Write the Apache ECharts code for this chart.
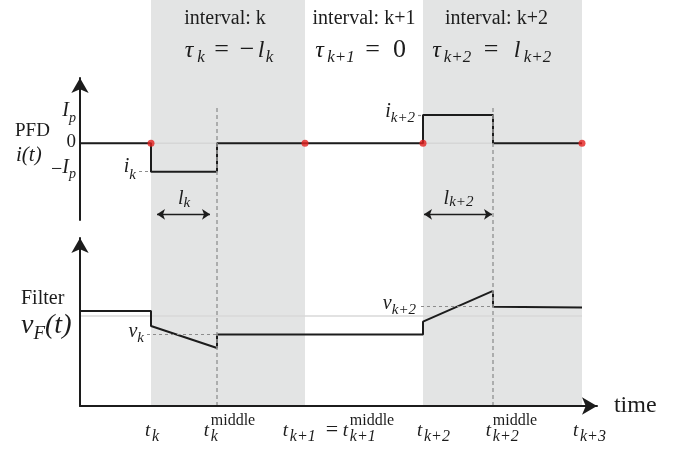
<!DOCTYPE html>
<html>
<head>
<meta charset="utf-8">
<script src="https://cdn.jsdelivr.net/npm/echarts@6/dist/echarts.min.js"></script>
<style>
  html, body { margin: 0; padding: 0; background: #fff; }
  #chart-container { width: 679px; height: 451px; }
</style>
</head>
<body>
<div id="chart-container"></div>
<script>
// time instants (arbitrary time units)
var tK = 7.1, tKMid = 13.7, tK1 = 22.5, tK2 = 34.3, tK2Mid = 41.3, tK3 = 50.2;
var timeMax = 51.7;
var tickTimes = [tK, tKMid, tK1, tK2, tK2Mid, tK3];

// PFD current, in units of Ip
var pfdTimes = [0, tK, tK, tKMid, tKMid, tK2, tK2, tK2Mid, tK2Mid, tK3];
var pfdCurrent = [0, 0, -1, -1, 0, 0, 1, 1, 0, 0];
var pfdLevels = [-1, 0, 1];
var sampleTimes = [tK, tK1, tK2, tK3];

// loop filter voltage
var filterTimes = [0, tK, tK, tKMid, tKMid, tK2, tK2, tK2Mid, tK2Mid, tK3];
var filterVolt = [5.65, 5.65, 4.76, 3.45, 4.25, 4.25, 5.02, 6.85, 5.91, 5.87];
var filterRef = 5.36;
var vK = 4.25, vK2 = 5.91;

// pulse width markers l_k, l_{k+2}
var lkSpan = [7.7, 13.0], lk2Span = [34.4, 41.2], lY = -2.5;

var SERIF = '"Liberation Serif", "DejaVu Serif", serif';
var INK = '#1c1c1c';
var SHADE = '#e3e4e4';

// --- rich text helpers (sub/superscripts) ---
var seq = 0;
function st(size, italic, extra) {
  var s = { fontFamily: SERIF, fontSize: size, fontStyle: italic ? 'italic' : 'normal', color: INK };
  for (var k in extra) s[k] = extra[k];
  return s;
}
function tok(rich, text, style) {
  var key = 'r' + (seq++);
  rich[key] = style;
  return '{' + key + '|' + text + '}';
}
function box(w, h, align) {
  var s = { width: w, height: h, lineHeight: h };
  if (align) s.align = align;
  return s;
}
// glyph centre c px below the top of its line
function topT(rich, text, size, italic, c, w, align) {
  var e = { verticalAlign: 'top', height: 2 * c, lineHeight: 2 * c, align: align };
  if (w) e.width = w;
  return tok(rich, text, st(size, italic, e));
}
// block of height 24 centred on anchor, glyph centre at dy from anchor
function midH(rich) { return tok(rich, '', box(1, 24)); }
function midT(rich, text, size, italic, dy) {
  var e = dy <= 0
    ? { verticalAlign: 'top', height: 2 * (12 + dy), lineHeight: 2 * (12 + dy) }
    : { verticalAlign: 'bottom', height: 2 * (12 - dy), lineHeight: 2 * (12 - dy) };
  return tok(rich, text, st(size, italic, e));
}
// glyph centre `up` px above the block bottom
function botT(rich, text, size, italic, up) {
  return tok(rich, text, st(size, italic, { verticalAlign: 'bottom', height: 2 * up, lineHeight: 2 * up }));
}

// y labels of PFD panel
var yRich = {};
var lblIp = midH(yRich) + midT(yRich, 'I', 20, true, -4) + midT(yRich, 'p', 14, true, 3);
var lbl0 = midH(yRich) + midT(yRich, '0', 19, false, -1.5);
var lblMinusIp = midH(yRich) + midT(yRich, '\u2212', 20, false, -2) + midT(yRich, 'I', 20, true, -3.6) + midT(yRich, 'p', 14, true, 2.6);

// level notes
var noteRich = {};
var ikLbl = midH(noteRich) + midT(noteRich, 'i', 20, true, -5) + midT(noteRich, 'k', 15, true, 3);
var ik2Lbl = midH(noteRich) + midT(noteRich, 'i', 20, true, -3) + midT(noteRich, 'k+2', 15, true, 3);
var vkLbl = midH(noteRich) + midT(noteRich, 'v', 20, true, -3) + midT(noteRich, 'k', 15, true, 3);
var vk2Lbl = midH(noteRich) + midT(noteRich, 'v', 20, true, -3) + midT(noteRich, 'k+2', 15, true, 3);
var lkLbl = tok(noteRich, '', box(1, 40)) + botT(noteRich, 'l', 20, true, 16) + botT(noteRich, 'k', 15, true, 11);
var lk2Lbl = tok(noteRich, '', box(1, 40)) + botT(noteRich, 'l', 20, true, 16) + botT(noteRich, 'k+2', 15, true, 12);

// time axis labels
var xRich = {};
function xl(pad, line1, line2) {
  return tok(xRich, '', box(pad, 14, 'left')) + line1 + '\n' + tok(xRich, '', box(pad, 2, 'left')) + line2;
}
function T() { return topT(xRich, 't', 19, true, 2.5, 7, 'left'); }
function S(txt, w) { return topT(xRich, txt, 16, true, 8.6, w, 'left'); }
function SUP() { return topT(xRich, 'middle', 16, false, 6.6, null, 'left'); }
function SP(w) { return tok(xRich, '', box(w, 14, 'left')); }
function EQ() { return topT(xRich, '=', 22, false, 2.2, 17, 'left'); }
var tickLabels = [
  xl(5, SP(1), T() + S('k', 10)),
  xl(25, SP(7) + SUP(), T() + S('k', 10)),
  xl(67, SP(67) + SUP(), T() + S('k+1', 36) + EQ() + T() + S('k+1', 30)),
  xl(25, SP(1), T() + S('k+2', 30)),
  xl(37, SP(7) + SUP(), T() + S('k+2', 30)),
  xl(19, SP(1), T() + S('k+3', 30))
];

// interval headers
var aRich = {};
function A(text, size, italic, c, w) { return topT(aRich, text, size, italic, c, w, 'center'); }
function AG(w) { return tok(aRich, '', box(w, 2, 'center')); }
var head1 = A('interval: k', 20, false, 18.5) + AG(6) + '\n' +
  A('\u03c4', 24, true, 14, 14) + A('k', 17, true, 21, 10) + A('=', 26, false, 13.2, 31) +
  A('\u2212', 26, false, 13.2, 20) + A('l', 24, true, 14, 8) + A('k', 17, true, 21, 9);
var head2 = A('interval: k+1', 20, false, 18.5) + '\n' +
  A('\u03c4', 24, true, 14, 13) + A('k+1', 17, true, 21, 30) + A('=', 26, false, 13.2, 33) +
  A('0', 26, false, 13.2, 21) + AG(5);
var head3 = A('interval: k+2', 20, false, 18.5) + AG(12) + '\n' +
  A('\u03c4', 24, true, 14, 13) + A('k+2', 17, true, 21, 29) + A('=', 26, false, 13.2, 38) +
  A('l', 24, true, 14, 14) + A('k+2', 17, true, 21, 27) + AG(24);

// panel names
var gRich = {};
var vfName = midH(gRich) + midT(gRich, 'v', 28, true, 0) + midT(gRich, 'F', 19, true, 8) + midT(gRich, '(t)', 28, true, 0);

function zip(xs, ys) { return xs.map(function (x, i) { return [x, ys[i]]; }); }
function nearest(v) {
  var best = 0;
  tickTimes.forEach(function (t, i) { if (Math.abs(t - v) < Math.abs(tickTimes[best] - v)) best = i; });
  return best;
}

var dom = document.getElementById('chart-container');
var myChart = echarts.init(dom, null, { renderer: 'canvas' });

var arrowAxis = function () {
  return {
    show: true,
    symbol: ['none', 'arrow'],
    symbolSize: [13, 15],
    lineStyle: { color: INK, width: 2 }
  };
};

var option = {
  animation: false,
  backgroundColor: '#fff',
  grid: [
    { left: 80, top: 0, width: 517, height: 406, show: false },
    { left: 80, top: 78, width: 517, height: 142, show: false },
    { left: 80, top: 238, width: 517, height: 168, show: false }
  ],
  xAxis: [
    { gridIndex: 0, type: 'value', min: 0, max: timeMax, show: false },
    { gridIndex: 1, type: 'value', min: 0, max: timeMax, show: false },
    {
      gridIndex: 2, type: 'value', min: 0, max: timeMax, z: 5,
      axisLine: arrowAxis(),
      axisTick: { show: false },
      splitLine: { show: false },
      axisLabel: {
        customValues: tickTimes,
        margin: 8,
        hideOverlap: false,
        rich: xRich,
        formatter: function (v) { return tickLabels[nearest(v)]; }
      },
      name: 'time',
      nameLocation: 'end',
      nameGap: 10,
      nameTextStyle: { fontFamily: SERIF, fontSize: 24, color: INK }
    }
  ],
  yAxis: [
    { gridIndex: 0, type: 'value', min: 0, max: 1, show: false },
    {
      gridIndex: 1, type: 'value', min: -2.7, max: 2.3, z: 5,
      axisLine: arrowAxis(),
      axisTick: { show: false },
      splitLine: { show: false },
      axisLabel: {
        customValues: pfdLevels,
        margin: 4,
        hideOverlap: false,
        rich: yRich,
        formatter: function (v) { return v > 0.5 ? lblIp : (v < -0.5 ? lblMinusIp : lbl0); }
      }
    },
    {
      gridIndex: 2, type: 'value', min: 0, max: 10, z: 5,
      axisLine: arrowAxis(),
      axisTick: { show: false },
      splitLine: { show: false },
      axisLabel: { show: false }
    }
  ],
  graphic: [
    { type: 'text', x: 15, y: 131, style: { text: 'PFD', fontFamily: SERIF, fontSize: 19, fill: INK, verticalAlign: 'middle' } },
    { type: 'text', x: 16, y: 155, style: { text: 'i(t)', fontFamily: SERIF, fontSize: 21, fontStyle: 'italic', fill: INK, verticalAlign: 'middle' } },
    { type: 'text', x: 21, y: 299, style: { text: 'Filter', fontFamily: SERIF, fontSize: 20, fill: INK, verticalAlign: 'middle' } },
    { type: 'text', x: 20, y: 326, style: { text: vfName, rich: gRich, fill: INK, verticalAlign: 'middle' } }
  ],
  series: [
    {
      name: 'intervals', type: 'line', xAxisIndex: 0, yAxisIndex: 0, z: 1, silent: true,
      data: [[0, 0]], symbol: 'none', lineStyle: { opacity: 0 },
      markArea: {
        silent: true,
        label: { show: true, position: 'insideTop', distance: 0, rich: aRich },
        data: [
          [{ xAxis: tK, itemStyle: { color: SHADE }, label: { formatter: head1 } }, { xAxis: tK1 }],
          [{ xAxis: tK1, itemStyle: { color: 'rgba(0,0,0,0)' }, label: { formatter: head2 } }, { xAxis: tK2 }],
          [{ xAxis: tK2, itemStyle: { color: SHADE }, label: { formatter: head3 } }, { xAxis: tK3 }]
        ]
      },
      markLine: {
        silent: true,
        symbol: ['none', 'none'],
        label: { show: false },
        lineStyle: { color: '#9a9a9a', type: [4, 3], width: 1.5 },
        data: [
          [{ coord: [tKMid, 0] }, { coord: [tKMid, 0.741] }],
          [{ coord: [tK2Mid, 0] }, { coord: [tK2Mid, 0.741] }]
        ]
      }
    },
    {
      name: 'zero', type: 'line', xAxisIndex: 1, yAxisIndex: 1, z: 2, silent: true, clip: false,
      data: [[0, 0], [tK3, 0]], symbol: 'none',
      lineStyle: { color: '#d6d6d6', width: 1.5 },
      markLine: {
        silent: true,
        symbol: ['arrow', 'arrow'],
        symbolSize: 8,
        lineStyle: { color: INK, width: 1.3, type: 'solid' },
        label: { show: true, position: 'insideMiddleTop', distance: 0, rich: noteRich },
        data: [
          [{ coord: [lkSpan[0], lY], label: { formatter: lkLbl } }, { coord: [lkSpan[1], lY] }],
          [{ coord: [lk2Span[0], lY], label: { formatter: lk2Lbl } }, { coord: [lk2Span[1], lY] }]
        ]
      }
    },
    {
      name: 'PFD', type: 'line', xAxisIndex: 1, yAxisIndex: 1, z: 3, silent: true, clip: false,
      data: zip(pfdTimes, pfdCurrent), symbol: 'none',
      lineStyle: { color: INK, width: 2 },
      markLine: {
        silent: true,
        symbol: ['none', 'none'],
        lineStyle: { color: '#8c8c8c', type: [3, 3], width: 1.2 },
        label: { show: true, position: 'start', distance: 3, rich: noteRich },
        data: [
          [{ coord: [5.9, -1], label: { formatter: ikLbl } }, { coord: [tK, -1] }],
          [{ coord: [33.8, 1], label: { formatter: ik2Lbl } }, { coord: [tK2, 1] }]
        ]
      }
    },
    {
      name: 'samples', type: 'scatter', xAxisIndex: 1, yAxisIndex: 1, z: 10, silent: true,
      data: sampleTimes.map(function (t) { return [t, 0]; }),
      symbolSize: 7,
      itemStyle: { color: '#e3201f' }
    },
    {
      name: 'ref', type: 'line', xAxisIndex: 2, yAxisIndex: 2, z: 2, silent: true,
      data: [[0, filterRef], [tK3, filterRef]], symbol: 'none',
      lineStyle: { color: '#d9d9d9', width: 1.5 }
    },
    {
      name: 'Filter', type: 'line', xAxisIndex: 2, yAxisIndex: 2, z: 3, silent: true, clip: false,
      data: zip(filterTimes, filterVolt), symbol: 'none',
      lineStyle: { color: INK, width: 2 },
      markLine: {
        silent: true,
        symbol: ['none', 'none'],
        lineStyle: { color: '#8c8c8c', type: [3, 3], width: 1.2 },
        label: { show: true, position: 'start', distance: 3, rich: noteRich },
        data: [
          [{ coord: [6.7, vK], label: { formatter: vkLbl } }, { coord: [tKMid, vK] }],
          [{ coord: [34.1, vK2], label: { formatter: vk2Lbl, distance: 5 } }, { coord: [tK2Mid, vK2] }]
        ]
      }
    }
  ]
};

myChart.setOption(option);
window.addEventListener('resize', myChart.resize);
</script>
</body>
</html>
